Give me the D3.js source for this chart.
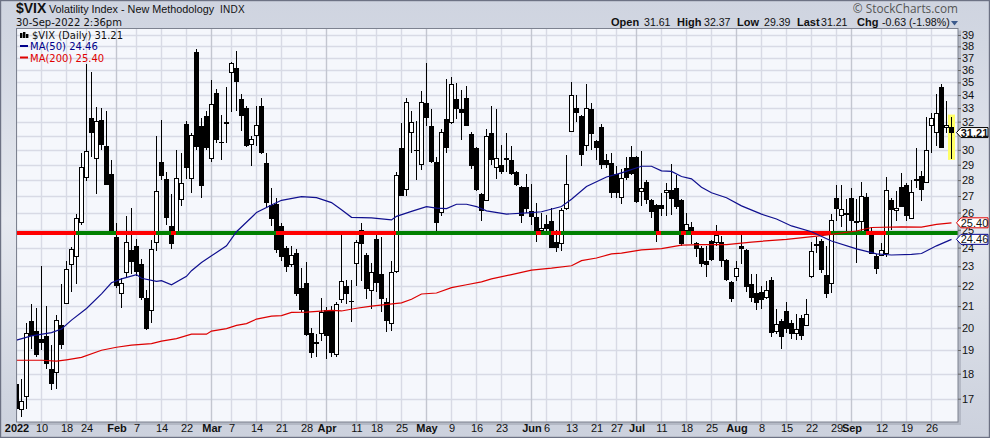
<!DOCTYPE html>
<html><head><meta charset="utf-8">
<script src="https://cdn.jsdelivr.net/npm/d3@7"></script>
<style>html,body{margin:0;padding:0;background:#fff}svg{display:block}text{font-family:"Liberation Sans",Arial,sans-serif}</style>
</head><body><svg id="c" width="990" height="438"></svg>
<script>
const opens=[17.6,16.6,17.1,20.3,19.85,19.5,19.6,18.2,18.05,20.1,21.15,23.1,23.5,25.4,28.2,32.3,29.4,32.1,30.3,28.4,24.6,21.6,22.7,23.85,24.1,23.1,21.4,20.8,24.3,29.2,28.1,25.2,24.8,26.8,31.8,28.1,37.55,31.7,32.45,29.4,34.2,30.55,31.95,35.8,36.2,33.7,33,30.4,31,33.2,29.1,26.45,26.5,25.2,24,23.1,23.7,21.9,22.15,19.73,19.35,19.75,20.8,20.8,18.8,21.3,22,21.25,23.15,25,23.6,21.75,24.5,22.6,21.2,20.2,22.75,30.1,27.4,31.2,30,29,33.4,31.7,29.15,26,32.2,31.9,33.7,32.9,33.8,31.1,30.1,27.1,26.7,31.2,28.85,29,29.45,29.3,28.5,27.55,27.55,26.1,25.75,24.95,25.35,25.5,24.3,24.25,26.25,31.3,33,32.45,30.3,32.9,30.6,31.6,29.3,29.1,28.4,26.9,28.8,29.5,29.55,27.3,27.9,26.75,26.45,26.45,27.2,27.4,27.5,26.75,24.95,25.15,24.25,24,23.3,24.35,24.3,24.3,23.35,22.2,22.45,24.1,23.85,22.1,21.65,21.7,21.4,22.3,19.8,20.3,20.75,20.2,19.75,20.45,20.1,22.45,24.2,24.35,22.55,22.1,26.9,25.8,25.95,26.9,25.5,25.5,26.95,24.9,23.55,23.6,23.7,26.75,26.1,27.55,27.7,25.65,28.05,28.25,27.85,31.7,31.25,34.6,31.6,31.61];
const highs=[17.7,17.8,20.2,21.1,20.9,23,21,19.2,20.6,22.1,23.3,24.05,25.9,29.8,36.5,35.8,33.1,33,32.8,29.3,25.4,22.4,25.8,26.3,24.5,23.4,21.8,24.45,31,32.1,28.5,27.1,30,29.8,32.05,31.2,37.8,32.3,32.8,35.2,34.5,32.5,34.6,36.7,37.6,34.1,33.2,31,33.2,33.8,29.8,27.5,26.85,25.4,24.1,24.1,23.9,22.9,23.25,20,19.7,21.4,20.95,21,21.2,24.75,22.3,22.3,24.4,25.4,23.7,23.2,24.7,24.6,21.4,23.3,28.5,31.9,33.8,32.8,32.05,34.3,36.6,32.9,29.5,31.5,35.3,35.45,34.95,34.4,34.75,31.25,30.2,27.2,31.5,33.15,32.95,30.35,31.15,30.25,28.6,27.6,28.4,27.75,26.55,26,25.85,26.25,25,26.3,29.65,35.05,34,32.5,34.85,33.4,30.7,31.8,29.75,29.8,28.9,28.7,29.5,30.25,29.6,29.9,28,26.8,26.5,27.2,27.8,29.05,28.35,26.8,26,25.45,24.3,24.1,24.1,24.4,25.3,24.65,23.4,22.25,23.3,24.9,23.9,22.6,22.6,22,22.25,22.45,20.85,20.4,21.2,20.35,20.65,20.6,21.35,24.3,24.6,24.5,24.1,25.9,27.7,27.7,26.8,27.5,26.8,27.9,27.2,25.1,23.65,24.25,28.2,26.85,27.3,28.45,27.8,28,30.15,28.6,32.35,32.6,34.05,34.9,33.55,32.37];
const lows=[16.5,16.3,16.6,19.05,18.7,19,18.2,17.35,17.4,19.05,21.1,21.7,22.1,25.25,27.95,29.5,27.1,30,27.7,24.7,21.9,20.9,22.4,22.6,22.5,21.3,19.9,20.2,23.8,28,25.3,23.9,24.7,26.4,28.1,27.2,30,26.9,30,29.2,30.5,29.3,30.5,32.7,32.75,31.3,30.2,28.9,30.3,29.7,26.3,25.2,23.7,23.3,22.7,22.95,21.5,20.7,19.6,18.65,18.7,19.4,18.6,18.7,18.7,21.15,21.1,20.25,22,22.25,21.35,20.85,21.7,20.7,19.8,19.85,22.65,27,27,29.8,28,28.65,31.7,29.1,24.95,25.8,29.8,31.85,32.2,30.7,31.65,28.7,27.3,25.5,26.7,29,28.05,28.4,28.5,28.3,27.6,25.4,26,25.25,24.3,24.7,24.9,24,23.75,23.8,26.15,31.25,31.95,28.9,29.9,30,29.3,28.7,28.8,26.85,26.85,26.5,28,28.3,26.6,26.4,26.5,25.7,24.3,25.8,25.8,25.85,26.2,24.1,24.7,24.2,23.5,22.95,22.45,23.3,24.1,22.95,22.25,21.2,22.25,23.1,21.7,21.2,20.8,20.85,21.35,19.55,19.7,19.05,19.75,19.5,19.45,19.45,20.05,22.4,23.7,22.65,21.4,21.65,25.5,25.15,24.95,24.85,23.2,24.9,24.75,23.65,22.6,23.55,23.5,25,25.5,26.35,25.5,25.6,27.5,26.7,27.8,29.8,30.25,30.1,31.15,29.39];
const closes=[16.6,16.9,19.73,19.6,18.8,19.3,18.4,17.6,20.3,19.2,22.85,23.9,25.65,28.85,29.9,31.15,32,30.35,27.7,24.85,22,22.1,24.3,23.25,22.7,21.4,19.95,23.9,27.3,28.25,25.7,24.2,28.1,27.8,28.8,31,30.2,27.6,30.1,33.3,30.7,30.45,31.85,36.5,35,32.4,30.3,30.75,31.7,29.8,26.6,25.6,23.85,23.5,22.95,23.6,21.6,20.8,19.65,18.85,19.25,20.7,19.6,18.85,21.1,22.2,21.6,21.2,24.3,24.2,21.85,22.7,22.15,21.35,20.3,22.7,28.3,27,33.4,31.9,29.95,33.4,32.3,29.2,25.4,31.2,30.15,34.8,32.95,32.6,31.7,28.9,27.4,26.1,30.9,29.3,29.4,28.55,29.4,28.4,27.7,25.8,26.2,25.75,24.9,25.1,25.05,24,24,26.1,27.7,34,32.65,29.65,32.95,31.1,30.15,29,29,27.2,27.2,28.1,28.15,28.4,26.65,27.5,26.75,26.05,24.7,26.2,27.35,26.8,26.35,24.2,25.3,24.7,23.9,23.1,23.05,23.35,24.7,23.3,22.3,21.35,22.9,23.9,21.95,21.4,21.15,21.3,21.75,19.75,20.15,19.55,19.95,19.7,19.9,19.6,20.6,23.8,24.1,22.8,21.6,25.55,26.2,26.2,25.85,25.5,25.45,26.95,24.85,23.65,22.85,23.85,27.35,26.15,26.25,26.35,25.8,27.25,28,27.35,29.95,32.25,32.6,30.1,31.75,31.21];

const ma50Days=[0,3,7,9,11,14,17,19,21,24,25,28,29,31,34,35,37,40,42,44,48,51,53,57,60,63,65,67,71,75,76,79,82,84,86,88,90,92,94,98,103,105,109,111,114,118,121,125,127,129,131,133,135,137,139,142,145,149,152,155,159,163,168,172,175,179,181,184,187];
const ma50Values=[19.43,19.62,19.77,19.93,20.34,20.89,21.6,22.15,22.35,22.57,22.38,22.22,22.26,22.05,22.48,22.77,23.2,23.74,24.1,24.89,26,26.45,26.74,26.96,26.9,26.6,26.17,25.72,25.69,25.57,25.78,26.07,26.36,26.27,26.24,26.5,26.5,26.36,26.1,25.91,26,26.05,26.36,26.8,27.6,28.2,28.47,28.9,28.9,28.6,28.56,28.23,28.08,27.55,27.2,26.9,26.4,25.91,25.62,25.22,24.89,24.37,23.93,23.66,23.6,23.63,23.68,24.1,24.46];
const ma200Days=[0,5,8,10,13,17,20,23,27,29,32,35,38,39,42,44,46,48,51,53,55,58,63,65,68,71,77,79,81,84,87,90,93,95,99,103,107,111,113,116,119,121,125,129,133,137,142,147,154,161,168,171,177,181,184,187];
const ma200Values=[18.56,18.56,18.52,18.58,18.68,18.99,19.12,19.21,19.28,19.39,19.5,19.7,19.7,19.84,19.95,20.1,20.18,20.39,20.53,20.55,20.7,20.72,20.8,20.77,20.9,21,21.16,21.33,21.59,21.64,21.91,22.05,22.2,22.35,22.57,22.8,22.9,23.03,23.3,23.44,23.66,23.7,23.88,23.95,24.14,24.17,24.17,24.31,24.46,24.67,24.93,25.13,25.17,25.15,25.31,25.4];

const levelValue=24.83;
const levelEdges=[0,11.9,19.9,27.9,30.9,31.8,51.8,75.8,103.8,104.9,106.9,108.9,127.8,128.9,132.9,133.9,134.9,162.9,169.8,173.8,188.3];
const levelColors=["#ff0000","#008000","#ff0000","#008000","#ff0000","#008000","#ff0000","#008000","#ff0000","#008000","#ff0000","#008000","#ff0000","#008000","#ff0000","#008000","#ff0000","#008000","#ff0000","#008000"];

const gridPrices=[17,18,19,20,21,22,23,24,25,26,27,28,29,30,31,32,33,34,35,36,37,38,39];
const priceLabels=[17,18,19,20,21,22,23,24,25,26,27,28,29,30,32,33,34,35,36,37,38,39];
const dayTickDays=[0,5,10,14,20,24,29,34,39,43,48,53,58,62,68,72,77,82,87,92,97,103,106,111,116,120,124,129,134,139,144,149,154,159,164,167,173,178,183];
const dayTickLabels=["2022","10","18","24","Feb","7","14","22","Mar","7","14","21","28","Apr","11","18","25","May","9","16","23","Jun","6","13","21","27","Jul","11","18","25","Aug","8","15","22","29","Sep","12","19","26"];
const monthLabels=["2022","Feb","Mar","Apr","May","Jun","Jul","Aug","Sep"];

const L=16.5,R=958,T=28.5,B=422;
const x=d3.scaleLinear().domain([0,188.3]).range([L,R]);
const y=d3.scaleLog().domain([16.12,39.58]).range([B,T]);
const svg=d3.select("#c");
const defs=svg.append("defs");
const bg=defs.append("linearGradient").attr("id","bg").attr("x1",0).attr("x2",0).attr("y1",0).attr("y2",1);
[[0,"#cfd4e0"],[.1,"#d2d7e2"],[.5,"#e6e9f0"],[.9,"#d0d5e0"],[1,"#ccd1dd"]].forEach(s=>bg.append("stop").attr("offset",s[0]).attr("stop-color",s[1]));
defs.append("clipPath").attr("id","plot").append("rect").attr("x",L).attr("y",T).attr("width",R-L).attr("height",B-T);

svg.append("rect").attr("x",.5).attr("y",.5).attr("width",989).attr("height",437).attr("fill","url(#bg)").attr("stroke","#6d7284").attr("stroke-width",1.4);
svg.append("rect").attr("x",L+2).attr("y",T+2).attr("width",R-L+1).attr("height",B-T+1).attr("fill","#a9aebb").attr("opacity",.7);
svg.append("rect").attr("x",L).attr("y",T).attr("width",R-L).attr("height",B-T).attr("fill","#f5f7fc");

const plot=svg.append("g").attr("clip-path","url(#plot)");
plot.selectAll("line.gy").data(gridPrices).join("line").attr("x1",L).attr("x2",R)
  .attr("y1",d=>Math.round(y(d))+.5).attr("y2",d=>Math.round(y(d))+.5).attr("stroke","#d8dae5").attr("stroke-width",1.4);
plot.selectAll("line.gx").data(dayTickDays).join("line")
  .attr("x1",d=>x(d)).attr("x2",d=>x(d)).attr("y1",T).attr("y2",B)
  .attr("stroke",(d,i)=>monthLabels.includes(dayTickLabels[i])?"#c3c6d0":"#d8dae5").attr("stroke-width",1.4);

const last=opens.length-1;
plot.append("rect").attr("x",x(last)-3.5).attr("width",7).attr("y",y(highs[last])-2).attr("height",y(lows[last])-y(highs[last])+3).attr("fill","#ffff66");

const idx=d3.range(opens.length);
const cg=plot.append("g").attr("shape-rendering","crispEdges");
cg.selectAll("line").data(idx).join("line").attr("x1",i=>x(i)).attr("x2",i=>x(i))
  .attr("y1",i=>y(highs[i])).attr("y2",i=>y(lows[i])).attr("stroke","#000").attr("stroke-width",1);
cg.selectAll("rect").data(idx).join("rect")
  .attr("x",i=>closes[i]>opens[i]?x(i)-2:x(i)-2.5)
  .attr("width",i=>closes[i]>opens[i]?4:5)
  .attr("y",i=>y(Math.max(opens[i],closes[i])))
  .attr("height",i=>Math.max(1.5,y(Math.min(opens[i],closes[i]))-y(Math.max(opens[i],closes[i]))))
  .attr("fill",i=>closes[i]>opens[i]?"#fff":"#000")
  .attr("stroke",i=>closes[i]>opens[i]?"#000":"none").attr("stroke-width",1);

plot.selectAll("line.level").data(levelColors).join("line").attr("class","level")
  .attr("x1",(c,i)=>x(levelEdges[i])).attr("x2",(c,i)=>x(levelEdges[i+1]))
  .attr("y1",y(levelValue)).attr("y2",y(levelValue)).attr("stroke",c=>c).attr("stroke-width",4).attr("shape-rendering","crispEdges");

const ln=d3.line().x(d=>x(d[0])).y(d=>y(d[1]));
plot.append("path").attr("d",ln(ma200Days.map((d,i)=>[d,ma200Values[i]]))).attr("fill","none").attr("stroke","#dd0000").attr("stroke-width",1.2);
plot.append("path").attr("d",ln(ma50Days.map((d,i)=>[d,ma50Values[i]]))).attr("fill","none").attr("stroke","#10108f").attr("stroke-width",1.2);

svg.append("rect").attr("x",L).attr("y",T).attr("width",R-L).attr("height",B-T).attr("fill","none").attr("stroke","#7d8290").attr("stroke-width",1);

const ax=svg.append("g").attr("transform",`translate(0,${B})`).call(d3.axisBottom(x).tickValues(dayTickDays).tickSize(0).tickPadding(2).tickFormat((d,i)=>dayTickLabels[i]));
ax.select(".domain").remove();
ax.selectAll("text").style("font-size","11px").attr("dy","8px").style("font-weight",(d,i)=>monthLabels.includes(dayTickLabels[i])?"bold":"normal").attr("fill","#111");
const ay=svg.append("g").attr("transform",`translate(${R},0)`).call(d3.axisRight(y).tickValues(priceLabels).tickSize(3).tickPadding(1).tickFormat(d3.format("d")));
ay.select(".domain").remove();
ay.selectAll("line").attr("stroke","#666");
ay.selectAll("text").style("font-size","11px").attr("fill","#111");

const txt=(s,px,py,o={})=>svg.append("text").attr("x",px).attr("y",py).text(s)
  .style("font-size",(o.size||11)+"px").style("font-weight",o.w||"normal").style("font-family",o.f||null)
  .attr("fill",o.c||"#111").attr("text-anchor",o.a||"start").attr("letter-spacing",o.ls||null);
txt("$VIX",16,13,{size:14,w:"bold"});
txt("Volatility Index - New Methodology",49,13,{size:10.8});
txt("INDX",220,13,{size:10,ls:.3});
txt("30-Sep-2022 2:36pm",16,26,{size:10,f:"DejaVu Sans"});
txt("\u00a9 StockCharts.com",958,13,{size:11.8,c:"#555",a:"end",f:"Open Sans"});
[["Open",611,1],["31.61",644,0],["High",677,1],["32.37",704,0],["Low",737,1],["29.39",764,0],["Last",797,1],["31.21",821,0],["Chg",857,1],["-0.63 (-1.98%)",882,0]]
 .forEach(d=>txt(d[0],d[1],26,{size:d[2]?11:10.6,w:d[2]?"bold":"normal"}));
svg.append("path").attr("d",d3.line()([[951,21],[958,21],[954.5,25.5]])).attr("fill","#3c5a8c");

txt("$VIX (Daily) 31.21",32,39,{size:10,f:"DejaVu Sans"});
txt("MA(50) 24.46",30,50,{size:10,f:"DejaVu Sans",c:"#00008b"});
txt("MA(200) 25.40",30,61.5,{size:10,f:"DejaVu Sans",c:"#e00000"});
svg.append("rect").attr("x",20).attr("y",45).attr("width",8).attr("height",2).attr("fill","#00008b");
svg.append("rect").attr("x",20).attr("y",56.5).attr("width",8).attr("height",2).attr("fill","#e00000");
[[20,33,5],[23,32,6],[26,34,4]].forEach(d=>svg.append("rect").attr("x",d[0]).attr("y",d[1]).attr("width",2.4).attr("height",d[2]).attr("fill","#000"));

const tags=[[31.21,"31.21","#000","bold"],[25.40,"25.40","#e00000","normal"],[24.46,"24.46","#00008b","normal"]];
tags.forEach(t=>{
  const c=y(t[0]), tip=956.5, bx=961, ex=988, h=5;
  svg.append("path").attr("d",d3.line()([[tip,c],[bx,c-h],[ex,c-h],[ex,c+h],[bx,c+h],[tip,c]])).attr("fill","#fff").attr("stroke",t[2]).attr("stroke-width",1);
  svg.append("text").attr("x",974.5).attr("y",c+4).attr("text-anchor","middle").text(t[1]).style("font-size","11px").style("font-weight",t[3]).attr("fill","#111");
});
</script></body></html>
